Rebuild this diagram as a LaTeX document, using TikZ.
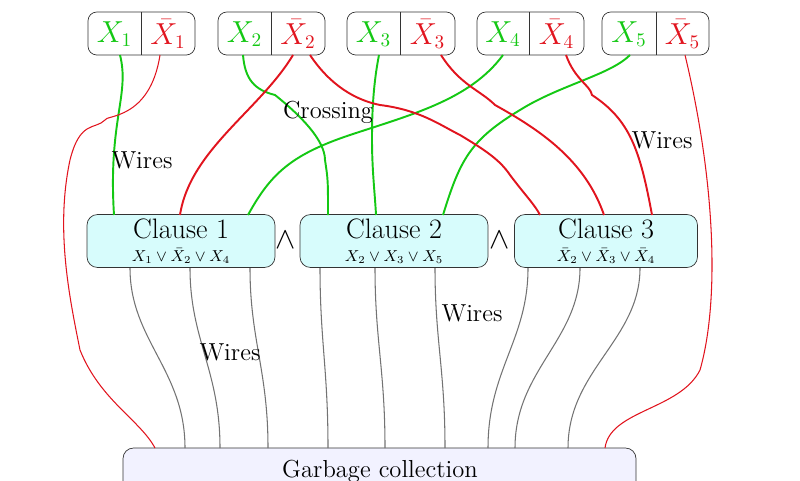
\documentclass[tikz,border=0pt]{standalone}
\usepackage{amsmath}
\begin{document}
\begin{tikzpicture}[x=0.02cm,y=-0.02cm,
  clause/.style={draw=black!80,rounded corners=6pt,fill=cfill,minimum height=1.06cm,align=center,inner sep=0},
  gw/.style={line width=1.1pt},
  rw/.style={line width=1.1pt},
  tr/.style={line width=0.6pt},
  gr/.style={black!55,line width=0.6pt},
  lab/.style={font=\fontsize{14}{16}\selectfont},
  vl/.style={font=\fontsize{16}{18}\selectfont}]
\definecolor{gc}{RGB}{20,200,20}
\definecolor{rc}{RGB}{225,20,30}
\definecolor{cfill}{RGB}{215,252,252}
\definecolor{gfill}{RGB}{242,242,255}
\useasboundingbox (0,0) rectangle (800,480);
% top boxes
\foreach \i/\l/\d/\r in {1/88/141/195,2/218/271/325,3/347/400/455,4/477/529/584,5/602/656/709}{
  \draw[black!80,rounded corners=5pt] (\l,12) rectangle (\r,55);
  \draw[black!80] (\d,12) -- (\d,55);
  \node[vl,text=gc] (p\i) at ({(\l+\d)/2},34) {$X_{\i}$};
  \node[vl,text=rc] (n\i) at ({(\d+\r)/2},34) {$\bar X_{\i}$};
}
% clauses
\node[clause,minimum width=3.76cm] (c1) at (181,241) {\fontsize{16}{18}\selectfont Clause 1\\[1pt] \small$X_1\vee\bar X_2\vee X_4$};
\node[clause,minimum width=3.76cm] (c2) at (394,241) {\fontsize{16}{18}\selectfont Clause 2\\[1pt] \small$X_2\vee X_3\vee X_5$};
\node[clause,minimum width=3.66cm] (c3) at (606,241) {\fontsize{16}{18}\selectfont Clause 3\\[1pt] \small$\bar X_2\vee\bar X_3\vee\bar X_4$};
\node[vl] (and1) at (286,240) {$\wedge$};
\node[vl] (and2) at (500,240) {$\wedge$};
% garbage
\draw[black!80,fill=gfill,rounded corners=6pt] (123,448) rectangle (636,500);
\node[lab] (gcn) at (380,471) {Garbage collection};
\coordinate (g1) at (155,448); \coordinate (g2) at (605,448);
% green wires
\draw[gw,gc] (120,55) .. controls (130,95) and (108,120) .. (114,215);
\draw[gw,gc] (243,55) .. controls (245,80) and (255,90) .. (275,95) .. controls (300,115) and (325,140) .. (325,160) .. controls (328,180) .. (328,215);
\draw[gw,gc] (379,55) .. controls (372,90) and (372,125) .. (372,140) .. controls (372,170) and (375,195) .. (376,215);
\draw[gw,gc] (503,55) .. controls (470,100) and (410,115) .. (350,135) .. controls (290,155) and (270,175) .. (248,215);
\draw[gw,gc] (630,55) .. controls (610,75) and (560,85) .. (520,110) .. controls (470,140) and (460,160) .. (443,215);
% red wires
\draw[rw,rc] (293,55) .. controls (260,110) and (190,150) .. (180,215);
\draw[rw,rc] (310,55) .. controls (330,85) and (355,100) .. (380,105) .. controls (420,110) and (440,125) .. (460,135) .. controls (485,150) and (500,160) .. (510,175) .. controls (525,195) and (535,205) .. (540,215);
\draw[rw,rc] (441,55) .. controls (460,85) and (480,90) .. (495,105) .. controls (540,130) and (585,160) .. (604,215);
\draw[rw,rc] (566,55) .. controls (575,80) and (590,85) .. (592,95) .. controls (630,120) and (640,150) .. (652,215);
% thin red
\draw[tr,rc] (160,55) .. controls (150,120) and (105,115) .. (105,120) .. controls (95,130) and (80,120) .. (70,160) .. controls (55,230) and (70,300) .. (80,350) .. controls (100,400) and (140,420) .. (g1);
\draw[tr,rc] (685,55) .. controls (715,180) and (720,300) .. (700,370) .. controls (680,410) and (610,410) .. (g2);
% gray wires
\foreach \a/\b in {130/185,190/220,250/268,320/328,375/385,435/445,528/488,580/515,640/568}{
  \draw[gr] (\a,268) .. controls (\a,340) and (\b,370) .. (\b,448);
}
% labels
\node[lab] (w1) at (142,160) {Wires};
\node[lab] (w2) at (230,352) {Wires};
\node[lab] (w3) at (472,313) {Wires};
\node[lab] (w4) at (662,140) {Wires};
\node[lab] (cr) at (328,112) {Crossing};
\end{tikzpicture}
\end{document}
